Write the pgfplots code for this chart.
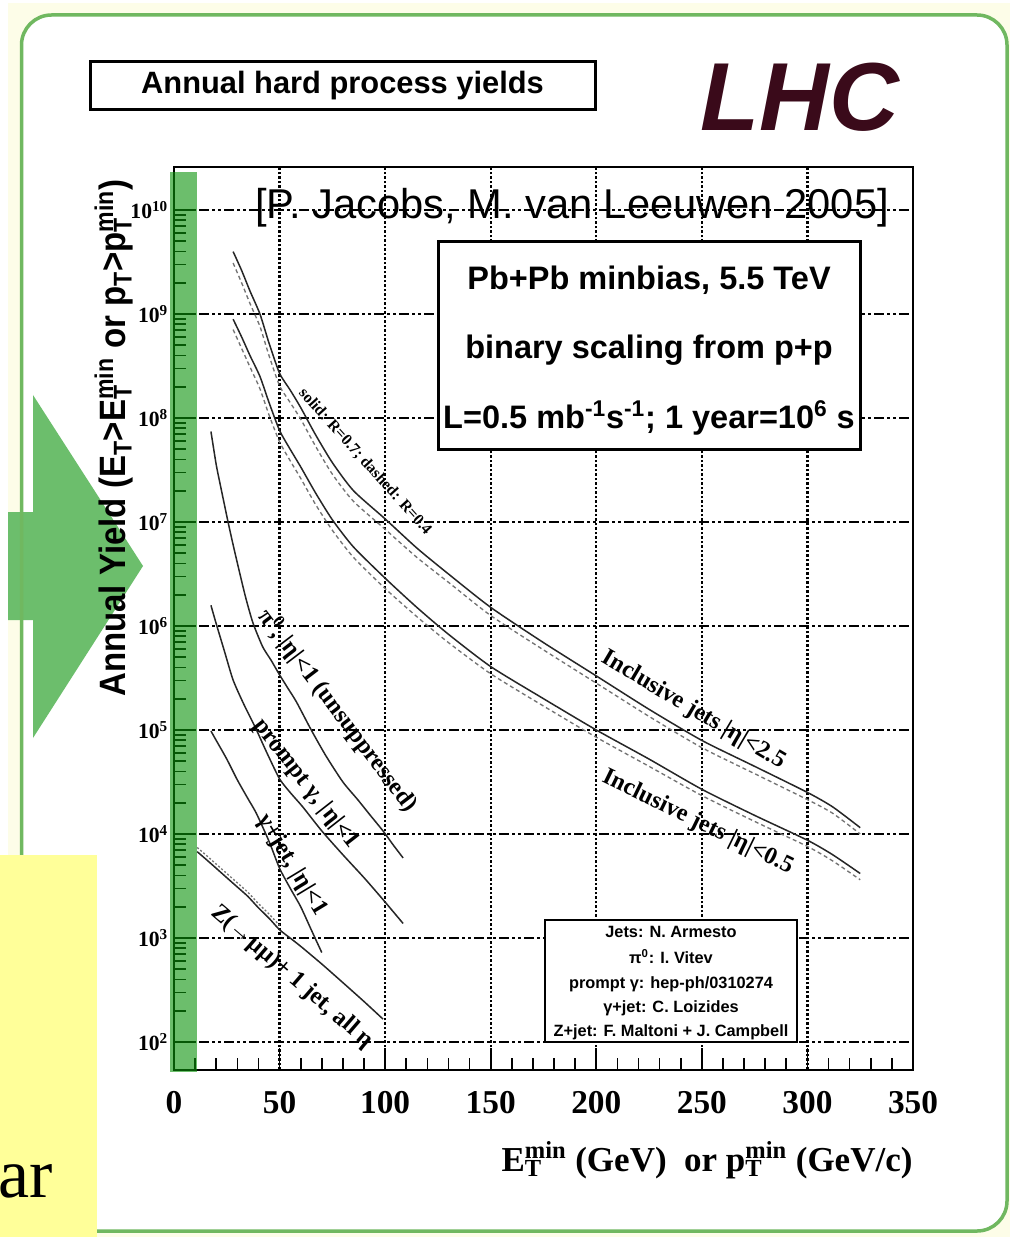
\documentclass[border=0pt]{standalone}
\usepackage{graphicx}
\usepackage{pgfplots}
\pgfplotsset{compat=1.18}
\usepackage{fontspec}
\setmainfont{Liberation Serif}
\newfontfamily\hel{Liberation Sans}
\definecolor{frameg}{RGB}{112,184,96}
\definecolor{arrowg}{RGB}{108,190,108}
\definecolor{bandg}{RGB}{10,147,10}
\definecolor{cream}{RGB}{253,253,232}
\definecolor{yel}{RGB}{255,255,153}
\definecolor{lhc}{RGB}{58,10,26}
\newcommand{\subsup}[2]{\rlap{\textsubscript{#1}}\textsuperscript{#2}}
\pgfplotsset{
  solidc/.style={black!85, line width=0.9pt, smooth, tension=0.4, no marks},
  dashc/.style={black!55, line width=0.8pt, smooth, tension=0.4, no marks, dash pattern=on 2.4pt off 1.8pt},
}
\begin{document}
\begin{tikzpicture}[x=0.6pt,y=-0.6pt]
\useasboundingbox (0,0) rectangle (1010,1237);
\fill[white] (0,0) rectangle (1010,1237);
\fill[cream] (8,3) rectangle (1010,1237);
\fill[white, rounded corners=18pt] (21.5,15) rectangle (1007,1231);
% green arrow
\fill[arrowg] (8,512) -- (33,512) -- (33,395) -- (143,566) -- (33,738) -- (33,620) -- (8,620) -- cycle;
\draw[frameg, line width=2.1pt, rounded corners=18pt] (21.5,15) rectangle (1007,1231);
% yellow box
\fill[yel] (0,855) rectangle (97,1237);
\node[anchor=base west, inner sep=0] at (-2,1197) {\fontsize{42}{42}\selectfont ar};

\begin{axis}[
  at={(104.4pt,-642pt)}, anchor=south west,
  width=443.4pt, height=541.8pt, scale only axis,
  xmin=0, xmax=350, ymode=log, ymin=53.8, ymax=2.59e10,
  xtick={0,50,100,150,200,250,300,350},
  minor x tick num=4,
  ytick={1e2,1e3,1e4,1e5,1e6,1e7,1e8,1e9,1e10},
  yticklabels={10\textsuperscript{2},10\textsuperscript{3},10\textsuperscript{4},10\textsuperscript{5},10\textsuperscript{6},10\textsuperscript{7},10\textsuperscript{8},10\textsuperscript{9},10\textsuperscript{10}},
  tick pos=left,
  /pgf/number format/assume math mode=true,
  xticklabel style={font=\bfseries\fontsize{20}{20}\selectfont, yshift=-9pt},
  yticklabel style={font=\bfseries\fontsize{13}{13}\selectfont},
  major tick length=13pt, minor tick length=7pt,
  every tick/.style={black, line width=1pt},
  axis line style={line width=1.7pt},
  grid=major,
  x grid style={black, line width=1.4pt, dash pattern=on 1.5pt off 1.2pt},
  y grid style={black, line width=1.3pt, dash pattern=on 6pt off 2pt on 1.5pt off 2pt on 1.5pt off 2pt},
  clip=false,
]
% Inclusive jets |eta|<2.5, R=0.7 (solid)
\addplot[solidc] coordinates {
(28,3.98e9) (32,2.63e9) (36,1.66e9) (40.7,1.00e9) (45,5.25e8) (50,2.69e8) (55,1.86e8) (60,1.26e8) (67,6.92e7) (75,3.72e7) (85,2.00e7) (100,1.07e7) (115,5.62e6) (130,3.16e6) (150,1.51e6) (175,6.92e5) (200,3.31e5) (225,1.58e5) (250,7.94e4) (275,4.47e4) (300,2.51e4) (312,1.82e4) (325,1.15e4)};
% R=0.4 (dashed)
\addplot[dashc] coordinates {
(28,3.09e9) (32,2.00e9) (36,1.26e9) (40.7,7.59e8) (45,3.98e8) (50,2.04e8) (55,1.41e8) (60,9.77e7) (67,5.37e7) (75,2.88e7) (85,1.58e7) (100,8.51e6) (115,4.57e6) (130,2.63e6) (150,1.26e6) (175,5.89e5) (200,2.82e5) (225,1.35e5) (250,6.76e4) (275,3.80e4) (300,2.14e4) (312,1.58e4) (325,1.00e4)};
% Inclusive jets |eta|<0.5
\addplot[solidc] coordinates {
(28,8.91e8) (32,6.03e8) (36,3.98e8) (40.7,2.51e8) (45,1.41e8) (50,7.59e7) (55,5.01e7) (60,3.39e7) (67,1.91e7) (75,1.05e7) (85,5.75e6) (100,2.88e6) (115,1.51e6) (130,8.32e5) (150,4.07e5) (175,2.00e5) (200,1.00e5) (225,5.25e4) (250,2.69e4) (275,1.51e4) (300,8.71e3) (312,6.31e3) (325,4.17e3)};
\addplot[dashc] coordinates {
(28,7.08e8) (32,4.68e8) (36,3.09e8) (40.7,1.91e8) (45,1.07e8) (50,5.89e7) (55,3.89e7) (60,2.63e7) (67,1.48e7) (75,8.32e6) (85,4.57e6) (100,2.29e6) (115,1.23e6) (130,6.92e5) (150,3.47e5) (175,1.70e5) (200,8.51e4) (225,4.47e4) (250,2.34e4) (275,1.32e4) (300,7.59e3) (312,5.50e3) (325,3.63e3)};
% pi0
\addplot[solidc] coordinates {
(17.5,7.41e7) (20,3.55e7) (21.8,2.34e7) (25.6,1.00e7) (28,6.03e6) (31,3.31e6) (34,1.86e6) (37.4,1.07e6) (42,6.31e5) (46,4.68e5) (50,3.39e5) (54,2.51e5) (58,1.86e5) (65,1.00e5) (72,5.62e4) (80,3.16e4) (87,2.14e4) (93,1.51e4) (99,1.07e4) (104,7.76e3) (108.5,5.89e3)};
% prompt gamma
\addplot[solidc] coordinates {
(17.5,1.58e6) (20,1.05e6) (24,5.62e5) (28,3.02e5) (33,1.78e5) (38.4,1.07e5) (44,6.03e4) (50,3.39e4) (55,2.51e4) (61,1.82e4) (70,1.07e4) (80,6.31e3) (90,3.80e3) (99,2.34e3) (108.5,1.38e3)};
% gamma + jet
\addplot[solidc] coordinates {
(17.5,9.77e4) (20,7.94e4) (25,5.25e4) (30,3.31e4) (35,2.19e4) (39,1.58e4) (45,8.51e3) (50,4.68e3) (55,3.02e3) (60,2.00e3) (65,1.20e3) (70,7.24e2)};
% Z + jet
\addplot[dashc, dash pattern=on 1.2pt off 1.2pt] coordinates {
(11,7.41e3) (15,6.31e3) (20,5.13e3) (25,4.17e3) (30,3.39e3) (35,2.75e3) (40,2.14e3) (45,1.70e3) (50,1.32e3)};
\addplot[solidc] coordinates {
(11,6.76e3) (15,5.75e3) (20,4.68e3) (25,3.80e3) (30,3.09e3) (35,2.51e3) (40,1.95e3) (45,1.55e3) (50,1.20e3) (55,1.00e3) (60,8.32e2) (70,5.62e2) (80,3.72e2) (90,2.45e2) (99,1.66e2)};

% curve labels
\node[rotate=-48, font=\bfseries\fontsize{9.5}{9.5}\selectfont] at (axis cs:90.5,3.80e7) {solid: R=0.7; dashed: R=0.4};
\node[rotate=-30.6, font=\bfseries\fontsize{14.5}{14.5}\selectfont] at (axis cs:246,1.55e5) {Inclusive jets |η|<2.5};
\node[rotate=-26, font=\bfseries\fontsize{14.5}{14.5}\selectfont] at (axis cs:248,1.29e4) {Inclusive jets |η|<0.5};
\node[rotate=-52.7, font=\bfseries\fontsize{14.5}{14.5}\selectfont] at (axis cs:77.7,1.55e5) {π\textsuperscript{0}, |η|<1 (unsuppressed)};
\node[rotate=-52, font=\bfseries\fontsize{14.5}{14.5}\selectfont] at (axis cs:62.5,3.02e4) {prompt γ, |η|<1};
\node[rotate=-58.8, font=\bfseries\fontsize{14.5}{14.5}\selectfont] at (axis cs:55.9,5.01e3) {γ+jet, |η|<1};
\node[rotate=-40.8, font=\bfseries\fontsize{14.5}{14.5}\selectfont] at (axis cs:55.9,4.22e2) {Z(→μμ)+ 1 jet, all η};
\end{axis}

% green highlight band over the y axis
\fill[bandg, opacity=0.6] (170,172) rectangle (197,1072);

% titles and boxes
\node[draw, line width=1.8pt, minimum width=303pt, minimum height=28.8pt, inner sep=0] at (342.5,86) {\hel\bfseries\fontsize{18.5}{18.5}\selectfont Annual hard process yields};
\node[lhc] at (800,97) {\hel\bfseries\itshape\fontsize{58}{58}\selectfont LHC};
\node at (572,208) {\hel\fontsize{25}{25}\selectfont [P. Jacobs, M. van Leeuwen 2005]};
\node[draw, fill=white, line width=1.8pt, minimum width=253.2pt, minimum height=124.8pt] at (649,346) {};
\node at (649,280) {\hel\bfseries\fontsize{19.5}{19.5}\selectfont Pb+Pb minbias, 5.5 TeV};
\node at (649,350) {\hel\bfseries\fontsize{19.5}{19.5}\selectfont binary scaling from p+p};
\node at (649,418) {\hel\bfseries\fontsize{19.5}{19.5}\selectfont L=0.5 mb\textsuperscript{-1}s\textsuperscript{-1}; 1 year=10\textsuperscript{6} s};
\node[draw, fill=white, line width=1.2pt, minimum width=151pt, minimum height=73pt] at (671,981) {};
\begin{scope}[every node/.style={font=\hel\bfseries\fontsize{9.8}{9.8}\selectfont}]
\node at (671,932) {Jets: N. Armesto};
\node at (671,957) {π\textsuperscript{0}: I. Vitev};
\node at (671,984) {prompt γ: hep-ph/0310274};
\node at (671,1008) {γ+jet: C. Loizides};
\node at (671,1032) {Z+jet: F. Maltoni + J. Campbell};
\end{scope}
% axis titles
\node[rotate=90] at (114,438) {\hel\bfseries\fontsize{22}{22}\selectfont\scalebox{0.9}[1]{Annual Yield (E\textsubscript{T}>E\subsup{T}{min} or p\textsubscript{T}>p\subsup{T}{min})}};
\node at (707,1160) {\bfseries\fontsize{21}{21}\selectfont E\subsup{T}{min} (GeV)\ \ or p\subsup{T}{min} (GeV/c)};
\end{tikzpicture}
\end{document}
